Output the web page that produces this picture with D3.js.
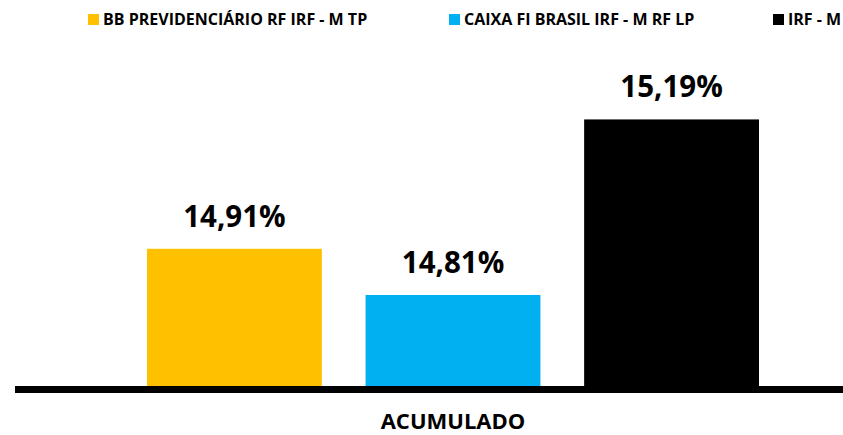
<!DOCTYPE html>
<html>
<head>
<meta charset="utf-8">
<script src="https://cdn.jsdelivr.net/npm/d3@7"></script>
<style>
  body { margin: 0; background: #fff; }
  svg { display: block; font-family: "Open Sans", sans-serif; }
</style>
</head>
<body>
<div id="chart"></div>
<script>
// data
const funds = ["BB PREVIDENCIÁRIO RF IRF - M TP", "CAIXA FI BRASIL IRF - M RF LP", "IRF - M"];
const returns = [14.91, 14.81, 15.19];
const category = "ACUMULADO";

const colors = ["#FFC000", "#00B0F0", "#000000"];

const width = 843,
  height = 435,
  baseY = 386;

const svg = d3.select("#chart")
  .append("svg")
  .attr("width", width)
  .attr("height", height);

const x = d3.scaleBand()
  .domain(funds)
  .range([147, 759])
  .paddingInner(0.2)
  .paddingOuter(0);

// axis doesn't start at zero
const y = d3.scaleLinear()
  .domain([14.613, 15.3])
  .range([baseY, baseY - 0.687 * 462]);

const fmt = v => d3.format(".2f")(v).replace(".", ",") + "%";

// bars
svg.append("g")
  .selectAll("rect")
  .data(funds)
  .join("rect")
  .attr("x", d => x(d))
  .attr("y", (d, i) => y(returns[i]))
  .attr("width", x.bandwidth())
  .attr("height", (d, i) => baseY - y(returns[i]))
  .attr("fill", (d, i) => colors[i]);

// value labels
svg.append("g")
  .attr("font-size", 29.5)
  .attr("font-weight", "bold")
  .attr("text-anchor", "middle")
  .selectAll("text")
  .data(funds)
  .join("text")
  .attr("x", d => x(d) + x.bandwidth() / 2)
  .attr("y", (d, i) => y(returns[i]) - 22)
  .attr("fill", "#000")
  .text((d, i) => fmt(returns[i]));

// baseline
svg.append("line")
  .attr("x1", 15)
  .attr("x2", width)
  .attr("y1", baseY + 3.5)
  .attr("y2", baseY + 3.5)
  .attr("stroke", "#000")
  .attr("stroke-width", 7);

// category label
svg.append("text")
  .attr("x", (x.range()[0] + x.range()[1]) / 2)
  .attr("y", 429)
  .attr("text-anchor", "middle")
  .attr("font-size", 22)
  .attr("font-weight", "bold")
  .text(category);

// legend
const legendX = [88, 449, 773];
const legend = svg.append("g")
  .selectAll("g")
  .data(funds)
  .join("g")
  .attr("transform", (d, i) => `translate(${legendX[i]},14)`);

legend.append("rect")
  .attr("width", 11)
  .attr("height", 11)
  .attr("fill", (d, i) => colors[i]);

legend.append("text")
  .attr("x", 15)
  .attr("y", 11)
  .attr("font-size", 16)
  .attr("font-weight", "bold")
  .text(d => d);
</script>
</body>
</html>
